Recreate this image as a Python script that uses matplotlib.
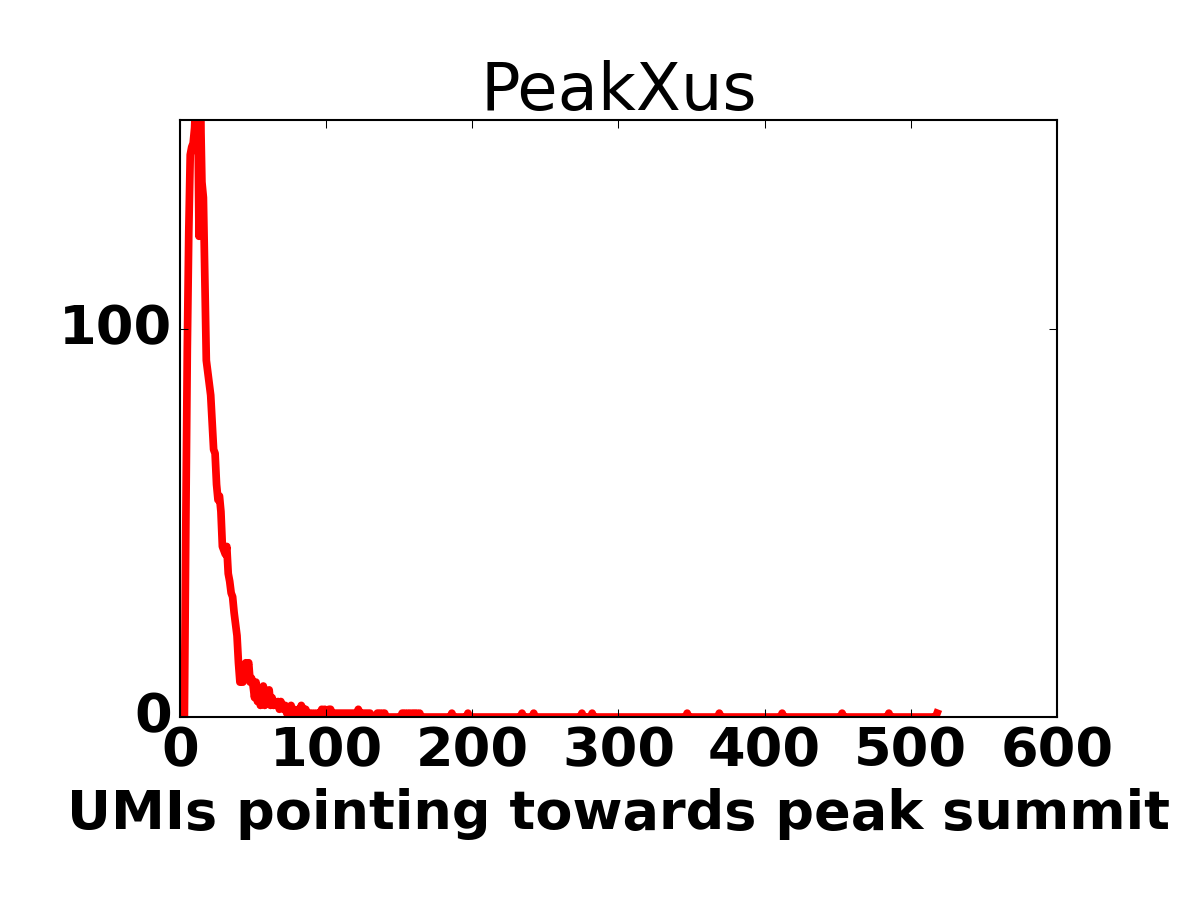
import numpy as np
import matplotlib
matplotlib.use("Agg")
import matplotlib.pyplot as plt

# number of peaks per UMI count (x = 3 .. 164)
dense_start = 3
dense_counts = [
    0, 50, 95, 125, 145, 147, 148, 152, 162, 165,   # 3-12
    124, 158, 138, 134, 113, 92, 89, 86, 83, 76,    # 13-22
    69, 68, 60, 56, 57, 53, 44, 43, 42, 44,         # 23-32
    37, 35, 32, 31, 27, 24, 21, 14, 9, 10,          # 33-42
    9, 11, 14, 13, 14, 9, 10, 8, 5, 9,              # 43-52
    4, 7, 3, 6, 8, 3, 5, 4, 7, 3,                   # 53-62
    5, 3, 4, 3, 4, 2, 4, 3, 2, 3,                   # 63-72
    1, 2, 2, 3, 1, 2, 1, 1, 2, 1,                   # 73-82
    3, 2, 1, 2, 1, 0, 1, 1, 0, 1,                   # 83-92
    0, 1, 1, 1, 2, 1, 2, 1, 1, 2,                   # 93-102
    2, 1, 1, 1, 1, 1, 1, 1, 1, 1,                   # 103-112
    1, 1, 1, 1, 1, 1, 1, 1, 1, 2,                   # 113-122
    1, 1, 1, 1, 1, 1, 1, 1, 0, 0,                   # 123-132
    0, 0, 1, 1, 1, 0, 1, 1, 0, 0,                   # 133-142
    0, 0, 0, 0, 0, 0, 0, 0, 0, 1,                   # 143-152
    1, 1, 0, 1, 1, 0, 1, 1, 1, 1, 0, 1,             # 153-164
]
# past that only single peaks (count 1) show up
sparse_umis = [186, 197, 234, 242, 275, 282, 347, 369, 412, 453, 485, 518]
last_umi = 518

umis = np.arange(dense_start, last_umi + 1)
counts = np.zeros(len(umis))
counts[:len(dense_counts)] = dense_counts
for u in sparse_umis:
    counts[u - dense_start] = 1

plt.style.use("classic")
fig = plt.figure(figsize=(8, 6), dpi=150, facecolor="white")
ax = fig.add_axes([0.15, 0.2033, 0.7308, 0.6634])

ax.plot(umis, counts, color="red", linewidth=3.7)

ax.set_xlim(0, 600)
ax.set_ylim(0, 154)
ax.set_xticks([0, 100, 200, 300, 400, 500, 600])
ax.set_yticks([0, 100])
for lab in ax.get_xticklabels() + ax.get_yticklabels():
    lab.set_fontsize(26)
    lab.set_fontweight("bold")

ax.set_xlabel("UMIs pointing towards peak summit", fontsize=26, fontweight="bold")
ax.set_title("PeakXus", fontsize=31.5)

fig.savefig("out.png", dpi=150, facecolor="white")
